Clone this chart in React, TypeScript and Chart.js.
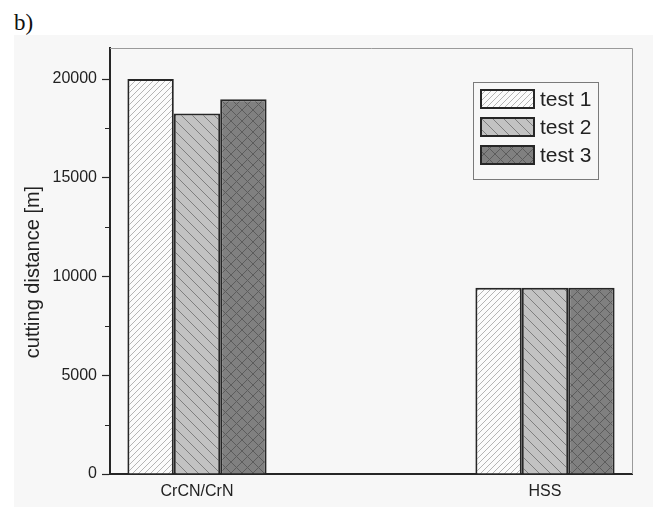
import React, { useEffect, useRef } from "react";
import { Chart, registerables } from "chart.js";
Chart.register(...registerables);

const CATEGORIES = ["CrCN/CrN", "HSS"];
const SERIES_NAMES = ["test 1", "test 2", "test 3"];
const TEST1 = [20000, 9430];
const TEST2 = [18250, 9430];
const TEST3 = [18980, 9430];
const Y_TICKS = [0, 5000, 10000, 15000, 20000];
const Y_MINOR = [2500, 7500, 12500, 17500];
const Y_MAX = 21570;
const Y_TITLE = "cutting distance [m]";
const PANEL_LABEL = "b)";

const FONT = "Arial, 'Liberation Sans', Helvetica, sans-serif";
const PANEL_BG = "#f7f7f7";
const EDGE = "#262626";

function makePattern(kind: number): CanvasPattern | string {
  const c = document.createElement("canvas");
  const p = kind === 0 ? 6 : 11;
  c.width = p;
  c.height = p;
  const g = c.getContext("2d");
  if (!g) return "#ccc";
  const bases = ["#fbfbfb", "#c2c2c2", "#808080"];
  const lines = ["#ababab", "#7e7e7e", "#5c5c5c"];
  g.fillStyle = bases[kind];
  g.fillRect(0, 0, p, p);
  g.strokeStyle = lines[kind];
  g.lineWidth = kind === 0 ? 0.9 : 1;
  g.beginPath();
  for (let k = -1; k <= 1; k++) {
    if (kind === 0 || kind === 2) {
      g.moveTo(k * p, p);
      g.lineTo(k * p + p, 0);
    }
    if (kind === 1 || kind === 2) {
      g.moveTo(k * p, 0);
      g.lineTo(k * p + p, p);
    }
  }
  g.stroke();
  const pat = g.createPattern(c, "repeat");
  return pat || bases[kind];
}

export default function App() {
  const ref = useRef<HTMLCanvasElement | null>(null);

  useEffect(() => {
    const canvas = ref.current;
    if (!canvas) return;
    const fills = [makePattern(0), makePattern(1), makePattern(2)];
    const values = [TEST1, TEST2, TEST3];

    const extras = {
      id: "extras",
      afterDraw(chart: any) {
        const ctx = chart.ctx;
        const area = chart.chartArea;
        const ys = chart.scales.y;
        ctx.save();
        ctx.strokeStyle = "#9a9a9a";
        ctx.lineWidth = 1;
        ctx.beginPath();
        ctx.moveTo(area.left, area.top + 0.5);
        ctx.lineTo(area.right + 0.5, area.top + 0.5);
        ctx.lineTo(area.right + 0.5, area.bottom);
        ctx.stroke();
        ctx.strokeStyle = EDGE;
        ctx.lineWidth = 1.2;
        ctx.beginPath();
        for (const v of Y_MINOR) {
          const y = Math.round(ys.getPixelForValue(v)) + 0.5;
          ctx.moveTo(area.left - 5, y);
          ctx.lineTo(area.left, y);
        }
        ctx.stroke();
        ctx.fillStyle = "#222";
        ctx.font = "20px " + FONT;
        ctx.textAlign = "center";
        ctx.textBaseline = "middle";
        ctx.translate(33, 272);
        ctx.rotate(-Math.PI / 2);
        ctx.fillText(Y_TITLE, 0, 0);
        ctx.setTransform(1, 0, 0, 1, 0, 0);
        const bx = 473, by = 82, bw = 125, bh = 97;
        ctx.fillStyle = PANEL_BG;
        ctx.fillRect(bx, by, bw, bh);
        ctx.strokeStyle = "#7a7a7a";
        ctx.lineWidth = 1;
        ctx.strokeRect(bx + 0.5, by + 0.5, bw, bh);
        chart.data.datasets.forEach((ds: any, i: number) => {
          const sy = 89 + i * 28;
          ctx.fillStyle = ds.backgroundColor;
          ctx.fillRect(480, sy, 55, 20);
          ctx.strokeStyle = EDGE;
          ctx.lineWidth = 2;
          ctx.strokeRect(481, sy + 1, 53, 18);
          ctx.fillStyle = "#222";
          ctx.font = "21px " + FONT;
          ctx.textAlign = "left";
          ctx.textBaseline = "middle";
          ctx.fillText(ds.label, 540, sy + 11);
        });
        ctx.restore();
      },
    };

    const chart = new Chart(canvas, {
      type: "bar",
      data: {
        datasets: SERIES_NAMES.map((name, i) => ({
          label: name,
          data: CATEGORIES.map((_, j) => ({ x: j, y: values[i][j] })),
          backgroundColor: fills[i] as any,
          borderColor: EDGE,
          borderWidth: { top: 2, left: 2, right: 2, bottom: 0 } as any,
          borderSkipped: false,
          categoryPercentage: 0.4,
          barPercentage: 1.0,
        })),
      },
      options: {
        animation: false,
        responsive: false,
        events: [],
        layout: { padding: { top: 48, right: 28, left: 0, bottom: 0 } },
        plugins: {
          legend: { display: false },
          tooltip: { enabled: false },
        },
        scales: {
          x: {
            type: "linear",
            offset: false,
            min: -0.25,
            max: 1.25,
            afterBuildTicks: (s: any) => {
              s.ticks = CATEGORIES.map((_, j) => ({ value: j }));
            },
            afterFit: (s: any) => {
              s.height = 33;
            },
            grid: { display: false, drawTicks: false, offset: false },
            border: { display: true, color: EDGE, width: 2 },
            ticks: {
              padding: 8,
              color: "#222",
              font: { family: FONT, size: 16 },
              maxRotation: 0,
              autoSkip: false,
              callback: (v: any) => CATEGORIES[Math.round(Number(v))] ?? "",
            },
          },
          y: {
            type: "linear",
            min: 0,
            max: Y_MAX,
            afterBuildTicks: (s: any) => {
              s.ticks = Y_TICKS.map((v) => ({ value: v }));
            },
            afterFit: (s: any) => {
              s.width = 110;
            },
            grid: {
              display: true,
              drawOnChartArea: false,
              drawTicks: true,
              tickLength: 8,
              tickColor: EDGE,
              tickWidth: 1.2,
            },
            border: { display: true, color: EDGE, width: 2 },
            ticks: {
              padding: 5,
              color: "#222",
              font: { family: FONT, size: 16 },
              autoSkip: false,
              callback: (v: any) => String(v),
            },
          },
        },
      },
      plugins: [extras],
    } as any);
    return () => chart.destroy();
  }, []);

  return (
    <div style={{ position: "absolute", left: 0, top: 0, width: 660, height: 507, background: "#fff", overflow: "hidden" }}>
      <div style={{ position: "absolute", left: 14, top: 35, width: 639, height: 472, background: PANEL_BG }} />
      <div style={{ position: "absolute", left: 14, top: 11, fontFamily: "'Times New Roman', 'Liberation Serif', serif", fontSize: 23, lineHeight: "23px", color: "#111" }}>
        {PANEL_LABEL}
      </div>
      <canvas ref={ref} width={660} height={507} style={{ position: "absolute", left: 0, top: 0, display: "block" }} />
    </div>
  );
}
